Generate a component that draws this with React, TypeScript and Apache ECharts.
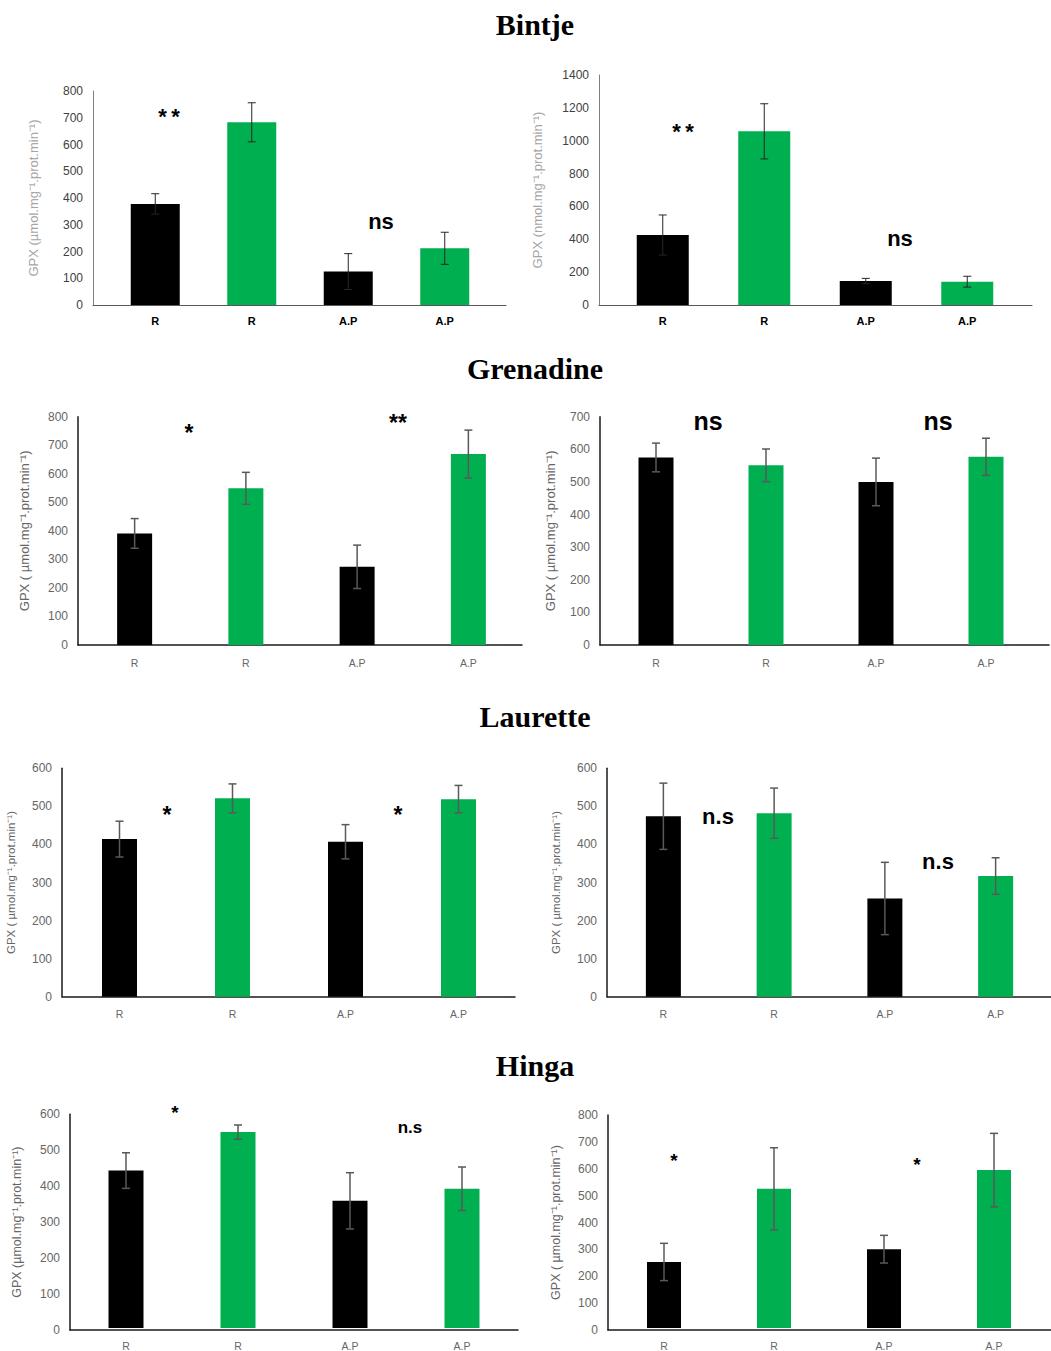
import React, { useEffect, useRef } from "react";
import * as echarts from "echarts";

const W = 1051;
const H = 1351;

const categories = ["R", "R", "A.P", "A.P"];
const barColors = ["#000000", "#00b050", "#000000", "#00b050"];

const bintjeLeftMeans = [378, 683, 125, 212];
const bintjeLeftErr = [38, 73, 67, 60];
const bintjeRightMeans = [426, 1057, 146, 142];
const bintjeRightErr = [122, 168, 16, 33];
const grenadineLeftMeans = [391, 549, 274, 669];
const grenadineLeftErr = [52, 56, 76, 84];
const grenadineRightMeans = [575, 551, 500, 577];
const grenadineRightErr = [44, 50, 73, 57];
const lauretteLeftMeans = [414, 521, 407, 519];
const lauretteLeftErr = [47, 38, 45, 36];
const lauretteRightMeans = [474, 482, 258, 317];
const lauretteRightErr = [87, 66, 95, 48];
const hingaLeftMeans = [442, 550, 357, 391];
const hingaLeftErr = [50, 20, 79, 61];
const hingaRightMeans = [248, 523, 296, 593];
const hingaRightErr = [70, 154, 52, 138];

const yMaxes = [800, 1400, 800, 700, 600, 600, 600, 800];
const yIntervals = [100, 200, 100, 100, 100, 100, 100, 100];

const titles = ["Bintje", "Grenadine", "Laurette", "Hinga"];

const yNameUmol = "GPX (µmol.mg⁻¹.prot.min⁻¹)";
const yNameNmol = "GPX (nmol.mg⁻¹.prot.min⁻¹)";
const yNameUmolSp = "GPX ( µmol.mg⁻¹.prot.min⁻¹)";

const annotations = [
  { t: "**", p: 0 }, { t: "ns", p: 0 },
  { t: "**", p: 1 }, { t: "ns", p: 1 },
  { t: "*", p: 2 }, { t: "**", p: 2 },
  { t: "ns", p: 3 }, { t: "ns", p: 3 },
  { t: "*", p: 4 }, { t: "*", p: 4 },
  { t: "n.s", p: 5 }, { t: "n.s", p: 5 },
  { t: "*", p: 6 }, { t: "n.s", p: 6 },
  { t: "*", p: 7 }, { t: "*", p: 7 },
];

// ---- layout (positions / styles) ----
const annLayout = [
  { x: 169, y: 112, fs: 22, ls: 3 }, { x: 381, y: 223, fs: 22, ls: 0 },
  { x: 683, y: 127, fs: 22, ls: 3 }, { x: 900, y: 240, fs: 22, ls: 0 },
  { x: 189, y: 428, fs: 23, ls: 0 }, { x: 398, y: 418, fs: 23, ls: 1 },
  { x: 708, y: 422, fs: 25, ls: 0 }, { x: 938, y: 422, fs: 25, ls: 0 },
  { x: 167, y: 810, fs: 23, ls: 0 }, { x: 398, y: 810, fs: 23, ls: 0 },
  { x: 718, y: 818, fs: 22, ls: 0 }, { x: 938, y: 863, fs: 22, ls: 0 },
  { x: 175, y: 1108, fs: 19, ls: 0 }, { x: 410, y: 1128, fs: 17, ls: 0 },
  { x: 674, y: 1156, fs: 19, ls: 0 }, { x: 917, y: 1160, fs: 19, ls: 0 },
];

const titleY = [24, 368, 716, 1065];

const panelLayout = [
  { x0: 93, x1: 506, top: 91, zero: 305, sL: 107, sR: 493, bw: 49, gap: 53, nameFs: 13, bintje: true, name: yNameUmol },
  { x0: 599, x1: 1032, top: 75, zero: 305, sL: 612, sR: 1018, bw: 52, gap: 55, nameFs: 13, bintje: true, name: yNameNmol },
  { x0: 78, x1: 522, top: 416.7, zero: 645, sL: 79, sR: 524, bw: 35, gap: 47, nameFs: 13, bintje: false, name: yNameUmolSp },
  { x0: 600, x1: 1049, top: 416.7, zero: 645, sL: 601, sR: 1041, bw: 35, gap: 43, nameFs: 13, bintje: false, name: yNameUmolSp },
  { x0: 62, x1: 515, top: 768.3, zero: 996.7, sL: 63, sR: 515, bw: 35, gap: 45, nameFs: 11.5, bintje: false, name: yNameUmolSp },
  { x0: 607, x1: 1051, top: 768.3, zero: 996.7, sL: 608, sR: 1051, bw: 35, gap: 45, nameFs: 11.5, bintje: false, name: yNameUmolSp },
  { x0: 70, x1: 518, top: 1114.3, zero: 1330, sL: 70, sR: 518, bw: 35, gap: 47, nameFs: 12.5, bintje: false, name: yNameUmol },
  { x0: 608, x1: 1051, top: 1115, zero: 1330, sL: 609, sR: 1049, bw: 34, gap: 46, nameFs: 12.5, bintje: false, name: yNameUmolSp },
];

const panelMeans = [
  bintjeLeftMeans, bintjeRightMeans, grenadineLeftMeans, grenadineRightMeans,
  lauretteLeftMeans, lauretteRightMeans, hingaLeftMeans, hingaRightMeans,
];
const panelErrs = [
  bintjeLeftErr, bintjeRightErr, grenadineLeftErr, grenadineRightErr,
  lauretteLeftErr, lauretteRightErr, hingaLeftErr, hingaRightErr,
];

function buildOption() {
  const grid: any[] = [];
  const xAxis: any[] = [];
  const yAxis: any[] = [];
  const series: any[] = [];
  const font = "'Liberation Sans', Arial, sans-serif";

  panelLayout.forEach((L, i) => {
    const axisColor = L.bintje ? "#595959" : "#1a1a1a";
    const tickColor = L.bintje ? "#404040" : "#666666";
    const nameColor = L.bintje ? "#a6a6a6" : "#666666";
    const fi = 2 * i;
    const di = 2 * i + 1;
    grid.push({ left: L.x0, right: W - L.x1, top: L.top, bottom: H - L.zero });
    grid.push({ left: L.sL, right: W - L.sR, top: L.top, bottom: H - L.zero });

    xAxis.push({
      gridIndex: fi, type: "value", min: 0, max: 1,
      axisLine: { show: true, lineStyle: { color: axisColor, width: L.bintje ? 1 : 1.5 } },
      axisTick: { show: false }, axisLabel: { show: false }, splitLine: { show: false },
    });
    yAxis.push({
      gridIndex: fi, type: "value", min: 0, max: yMaxes[i], interval: yIntervals[i],
      axisLine: { show: true, lineStyle: { color: L.bintje ? "#7f7f7f" : "#1a1a1a", width: L.bintje ? 1 : 1.5 } },
      axisTick: { show: false }, splitLine: { show: false },
      axisLabel: {
        color: tickColor, fontSize: 12, fontFamily: font, margin: 10,
        formatter: (v: number) => String(v),
      },
      name: L.name, nameLocation: "middle", nameGap: L.gap,
      nameTextStyle: { color: nameColor, fontSize: L.nameFs, fontFamily: font },
    });

    xAxis.push({
      gridIndex: di, type: "category", data: categories,
      axisLine: { show: false }, axisTick: { show: false },
      axisLabel: {
        color: L.bintje ? "#000000" : "#666666",
        fontWeight: L.bintje ? "bold" : "normal",
        fontSize: L.bintje ? 11 : 10.5, fontFamily: font, margin: L.bintje ? 10 : 12,
      },
    });
    yAxis.push({ gridIndex: di, type: "value", min: 0, max: yMaxes[i], show: false });

    const means = panelMeans[i];
    const errs = panelErrs[i];
    series.push({
      type: "bar", xAxisIndex: di, yAxisIndex: di, barWidth: L.bw,
      data: means.map((m, j) => ({ value: m, itemStyle: { color: barColors[j] } })),
      z: 2,
    });
    const errColor = L.bintje ? "#262626" : "#595959";
    const errW = L.bintje ? 1 : 1.5;
    series.push({
      type: "custom", xAxisIndex: di, yAxisIndex: di, z: 5,
      data: means.map((m, j) => [j, m - errs[j], m + errs[j]]),
      renderItem: (params: any, api: any) => {
        const lo = api.coord([api.value(0), api.value(1)]);
        const hi = api.coord([api.value(0), api.value(2)]);
        const c = 4;
        const st = { stroke: errColor, lineWidth: errW };
        return {
          type: "group",
          children: [
            { type: "line", shape: { x1: hi[0], y1: hi[1], x2: lo[0], y2: lo[1] }, style: st },
            { type: "line", shape: { x1: hi[0] - c, y1: hi[1], x2: hi[0] + c, y2: hi[1] }, style: st },
            { type: "line", shape: { x1: lo[0] - c, y1: lo[1], x2: lo[0] + c, y2: lo[1] }, style: st },
          ],
        };
      },
    });
  });

  const graphic: any[] = [];
  titles.forEach((t, k) => {
    graphic.push({
      type: "text", x: 535, y: titleY[k],
      style: {
        text: t, fill: "#000", font: "bold 30px 'Liberation Serif', 'Times New Roman', serif",
        textAlign: "center", textVerticalAlign: "middle",
      },
    });
  });
  annotations.forEach((a, k) => {
    const A = annLayout[k];
    const isStar = a.t.indexOf("*") >= 0;
    const txt = A.ls ? a.t.split("").join(" ".repeat(1)) : a.t;
    graphic.push({
      type: "text", x: A.x, y: isStar ? A.y + A.fs * 0.22 : A.y - A.fs * 0.05,
      style: {
        text: A.ls > 1 ? a.t.split("").join("\u2009") : a.t,
        fill: "#000",
        font: `bold ${A.fs}px 'Liberation Sans', Arial, sans-serif`,
        textAlign: "center", textVerticalAlign: "middle",
      },
    });
    void txt;
  });

  return {
    animation: false,
    backgroundColor: "#ffffff",
    grid, xAxis, yAxis, series, graphic,
  };
}

export default function App() {
  const ref = useRef<HTMLDivElement>(null);
  useEffect(() => {
    if (!ref.current) return;
    const chart = echarts.init(ref.current, null, { renderer: "svg" });
    chart.setOption(buildOption() as any);
    return () => chart.dispose();
  }, []);
  return (
    <div
      ref={ref}
      style={{ position: "absolute", left: 0, top: 0, width: W, height: H, background: "#fff" }}
    />
  );
}
